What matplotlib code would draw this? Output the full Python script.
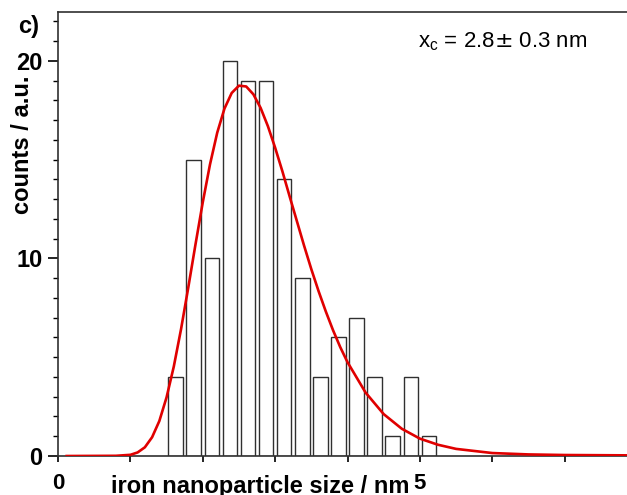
import numpy as np
import matplotlib
matplotlib.use("Agg")
import matplotlib.pyplot as plt

plt.rcParams['font.family'] = ['Liberation Sans', 'DejaVu Sans']

# histogram of particle sizes (bin centres in nm, counts)
bin_centres = [1.625, 1.875, 2.125, 2.375, 2.625, 2.875, 3.125, 3.375,
               3.625, 3.875, 4.125, 4.375, 4.625, 4.875, 5.125]
counts = [4, 15, 10, 20, 19, 19, 14, 9, 4, 6, 7, 4, 1, 4, 1]
bar_width = 0.2

# fitted curve, points
fit_x = [0.12, 0.8, 1.0, 1.1, 1.2, 1.3, 1.4, 1.5, 1.6, 1.7, 1.8, 1.9, 2.0,
         2.1, 2.2, 2.3, 2.4, 2.5, 2.6, 2.7, 2.8, 2.9, 3.0, 3.1, 3.2, 3.3,
         3.4, 3.5, 3.6, 3.7, 3.8, 3.9, 4.0, 4.25, 4.5, 4.75, 5.0, 5.25,
         5.5, 6.0, 6.5, 7.0, 8.0]
fit_y = [0.0, 0.01, 0.06, 0.18, 0.44, 0.95, 1.77, 2.97, 4.53, 6.42, 8.53,
         10.72, 12.84, 14.76, 16.37, 17.59, 18.38, 18.75, 18.71, 18.31,
         17.62, 16.7, 15.61, 14.42, 13.15, 11.9, 10.65, 9.46, 8.35, 7.32,
         6.37, 5.51, 4.75, 3.21, 2.12, 1.38, 0.88, 0.57, 0.36, 0.15, 0.08,
         0.05, 0.03]

x_ticks = [0, 1, 2, 3, 4, 5, 6, 7, 8]
x_ticklabels = ['0', '', '', '', '', '5', '', '', '']
y_ticks = [0, 10, 20]

fig = plt.figure(figsize=(6.27, 4.95), dpi=100)
ax = fig.add_axes([58/627, 39/495, 579/627, 444/495])

ax.bar(bin_centres, counts, width=bar_width, facecolor='white',
       edgecolor='#303030', linewidth=1.0, zorder=2)
ax.plot(fit_x, fit_y, color='#e00000', linewidth=1.9, zorder=3)

ax.set_xlim(0, 8)
ax.set_ylim(0, 22.48)

ax.set_xticks(x_ticks)
ax.set_xticklabels(x_ticklabels)
ax.set_yticks(y_ticks)
ax.set_yticks(np.arange(0, 23, 1), minor=True)

ax.tick_params(axis='x', direction='out', length=4, width=1.2, pad=8,
               labelsize=16, colors='black')
ax.tick_params(axis='y', which='major', direction='out', length=7, width=1.2,
               pad=4, labelsize=17)
ax.tick_params(axis='y', which='minor', direction='out', length=3.5, width=1.0)
for lab in ax.get_xticklabels() + ax.get_yticklabels():
    lab.set_fontweight('bold')

for side in ['left', 'bottom', 'top', 'right']:
    ax.spines[side].set_linewidth(1.2)
    ax.spines[side].set_color('#303030')

ax.set_xlabel('iron nanoparticle size / nm', fontsize=17, fontweight='bold')
ax.xaxis.set_label_coords(0.349, -0.042)
ax.set_ylabel('counts / a.u.', fontsize=17, fontweight='bold')
ax.yaxis.set_label_coords(-0.042, 0.7)

ax.text(4.97, 21.0, r'x$_\mathregular{c}$ = 2.8$\pm$ 0.3 nm', fontsize=16,
        va='center', ha='left')
fig.text(18/627, 1 - 26/495, 'c)', fontsize=17, fontweight='bold',
         va='center', ha='left')

fig.savefig('out.png', dpi=100)
